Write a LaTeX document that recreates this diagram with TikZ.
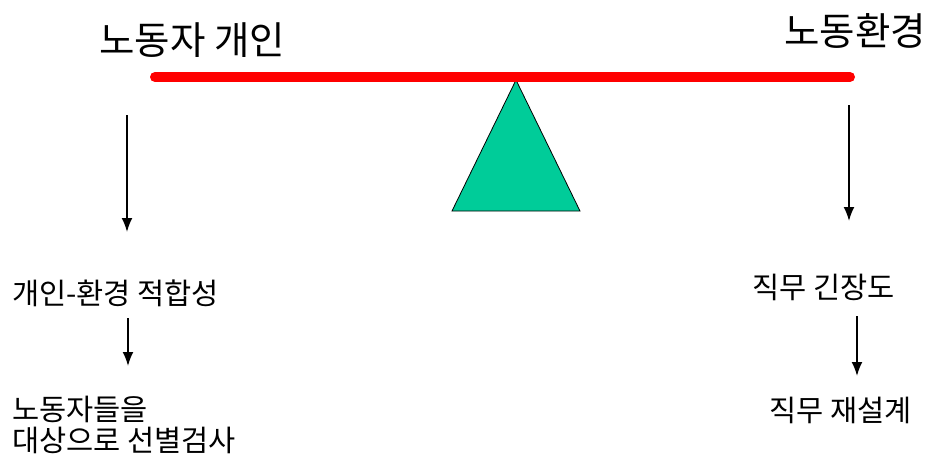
\documentclass[tikz,border=0pt]{standalone}
\usepackage{fontspec}
\setmainfont{Noto Sans CJK KR}
\usetikzlibrary{arrows.meta,positioning}
\definecolor{beamred}{RGB}{255,0,0}
\definecolor{pivotgreen}{RGB}{0,204,153}

\begin{document}
\begin{tikzpicture}[x=1pt,y=-1pt,
  heading/.style={font=\fontsize{38.5}{44}\selectfont, inner sep=0pt, anchor=west},
  caption/.style={font=\fontsize{29.5}{31}\selectfont, inner sep=0pt, anchor=west, align=left},
  flow/.style={line width=1.8pt, -{Latex[length=14pt,width=11pt]}}]
\useasboundingbox (0,0) rectangle (930,456);

% Pivot under the beam
\draw[fill=pivotgreen, line width=0.8pt] (516,80) -- (580,211) -- (452,211) -- cycle;

% Beam of the balance
\coordinate (beamL) at (155,77);
\coordinate (beamR) at (850,77);
\draw[beamred, line width=10pt, line cap=round] (beamL) -- (beamR);

% Two sides of the balance
\node[heading] (worker) at (99,40) {노동자 개인};
\node[heading] (environ) at (784,31) {노동환경};

% Left column
\node[caption] (fit) at (12,293) {개인-환경 적합성};
\node[caption] (screen) at (12,425) {노동자들을\\대상으로 선별검사};

% Right column
\node[caption] (strain) at (752,287) {직무 긴장도};
\node[caption] (redesign) at (769,410) {직무 재설계};

% Arrow ends
\coordinate (l1s) at (127,115);
\coordinate (l1e) at (127,232);
\coordinate (l2s) at (128,318);
\coordinate (l2e) at (128,366);
\coordinate (r1s) at (849,105);
\coordinate (r1e) at (849,221);
\coordinate (r2s) at (857,316);
\coordinate (r2e) at (857,376);

\draw[flow] (l1s) -- (l1e);
\draw[flow] (l2s) -- (l2e);
\draw[flow] (r1s) -- (r1e);
\draw[flow] (r2s) -- (r2e);
\end{tikzpicture}
\end{document}
